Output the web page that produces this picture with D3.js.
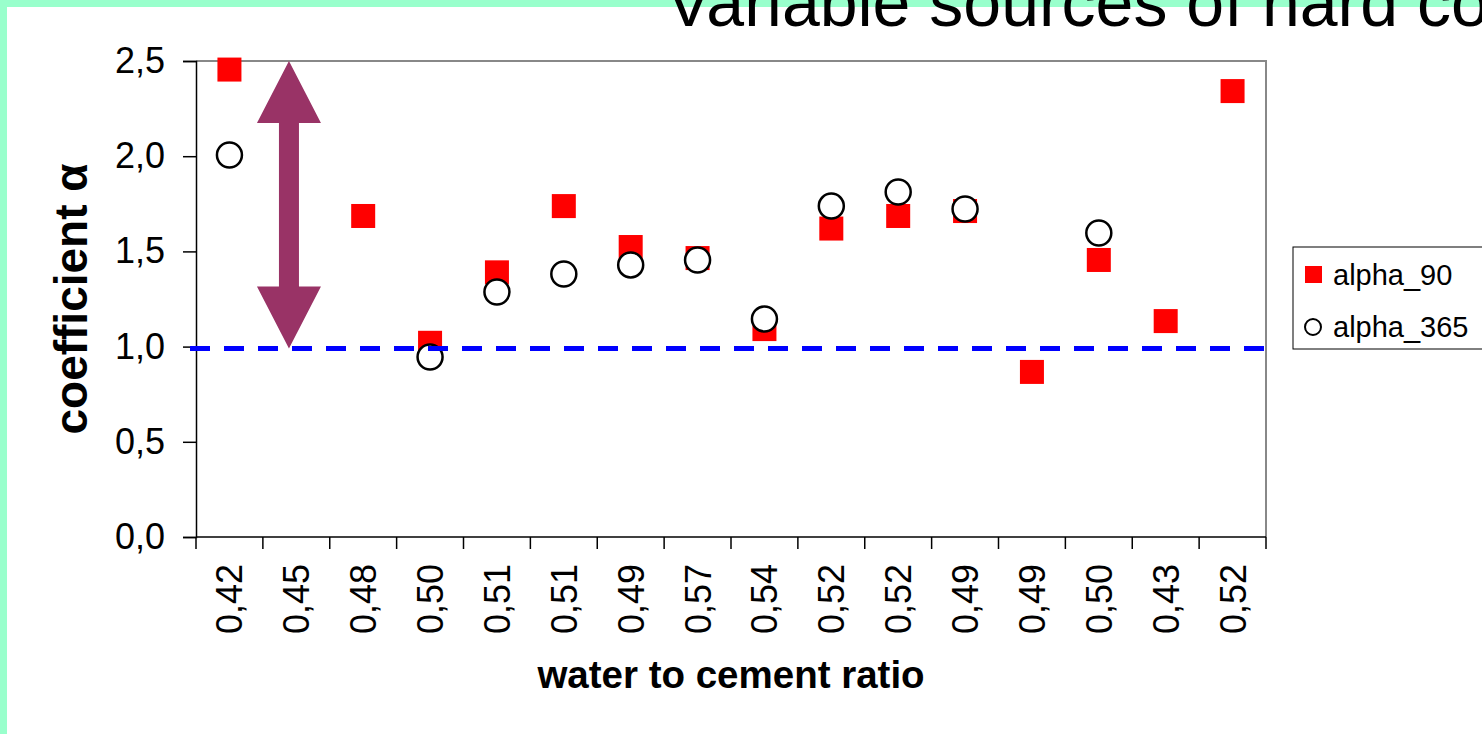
<!DOCTYPE html>
<html>
<head>
<meta charset="utf-8">
<script src="https://cdn.jsdelivr.net/npm/d3@7"></script>
<style>
  body { margin: 0; background: #fff; }
  svg { display: block; }
  text { font-family: "Liberation Sans", Arial, sans-serif; }
</style>
</head>
<body>
<svg width="1482" height="734"></svg>
<script>
// chart data
var categories = ["0,42", "0,45", "0,48", "0,50", "0,51", "0,51", "0,49", "0,57",
                  "0,54", "0,52", "0,52", "0,49", "0,49", "0,50", "0,43", "0,52"];
var alpha90  = [2.455, null, 1.686, 1.02, 1.39, 1.738, 1.523, 1.465,
                1.092, 1.62, 1.686, 1.712, 0.867, 1.455, 1.134, 2.342];
var alpha365 = [2.006, null, null, 0.945, 1.287, 1.381, 1.429, 1.455,
                1.145, 1.738, 1.812, 1.723, null, 1.597, null, null];
var yTicks = [0, 0.5, 1, 1.5, 2, 2.5];
var refValue = 0.99;
var arrowFrom = 1.0, arrowTo = 2.5;

var svg = d3.select("svg");
var W = +svg.attr("width");
var H = +svg.attr("height");
var pLeft = 196, pRight = 1266, pTop = 61, pBottom = 537;

var x = d3.scaleBand().domain(d3.range(categories.length)).range([pLeft, pRight]);
var y = d3.scaleLinear().domain([0, 2.5]).range([pBottom, pTop]);
var fmt = function (d) { return d3.format(".1f")(d).replace(".", ","); };

// slide frame
svg.append("rect").attr("x", 0).attr("y", 0).attr("width", W).attr("height", 7).attr("fill", "#99ffcc");
svg.append("rect").attr("x", 0).attr("y", 0).attr("width", 7).attr("height", H).attr("fill", "#99ffcc");

svg.append("text")
    .attr("x", 666)
    .attr("y", 26)
    .attr("font-family", "DejaVu Sans")
    .attr("font-size", 68)
    .attr("fill", "#000")
    .text("Variable sources of hard co");

// plot frame (top / right grey)
svg.append("path")
    .attr("d", "M" + pLeft + "," + pTop + "H" + pRight + "V" + pBottom)
    .attr("fill", "none")
    .attr("stroke", "#888")
    .attr("stroke-width", 2);

// y axis
var yAxis = svg.append("g")
    .attr("transform", "translate(" + pLeft + ",0)")
    .call(d3.axisLeft(y).tickValues(yTicks).tickFormat(fmt).tickSize(13).tickPadding(18));
yAxis.select(".domain").attr("stroke", "#000").attr("stroke-width", 1.5);
yAxis.selectAll(".tick line").attr("stroke", "#000").attr("stroke-width", 1.5);
yAxis.selectAll(".tick text")
    .attr("font-family", "Liberation Sans")
    .attr("font-size", 36)
    .attr("fill", "#000");

// x axis: labels at centres, ticks at band edges
var xAxis = svg.append("g")
    .attr("transform", "translate(0," + pBottom + ")")
    .call(d3.axisBottom(x).tickFormat(function (i) { return categories[i]; }).tickSize(0));
xAxis.select(".domain").remove();
xAxis.selectAll(".tick text")
    .attr("font-family", "Liberation Sans")
    .attr("font-size", 36)
    .attr("fill", "#000")
    .attr("text-anchor", "end")
    .attr("transform", "rotate(-90)")
    .attr("x", -27)
    .attr("y", 0)
    .attr("dy", "0.36em");

svg.append("line")
    .attr("x1", pLeft).attr("x2", pRight)
    .attr("y1", pBottom).attr("y2", pBottom)
    .attr("stroke", "#000").attr("stroke-width", 1.5);

var edges = d3.range(categories.length + 1).map(function (i) {
    return i < categories.length ? x(i) : x(i - 1) + x.bandwidth();
});
svg.append("g").selectAll("line")
    .data(edges)
    .enter()
    .append("line")
    .attr("x1", function (d) { return d; })
    .attr("x2", function (d) { return d; })
    .attr("y1", pBottom)
    .attr("y2", pBottom + 12)
    .attr("stroke", "#000")
    .attr("stroke-width", 1.5);

// axis titles
svg.append("text")
    .attr("x", 731)
    .attr("y", 688)
    .attr("text-anchor", "middle")
    .attr("font-weight", "bold")
    .attr("font-size", 38.5)
    .attr("fill", "#000")
    .text("water to cement ratio");

svg.append("text")
    .attr("transform", "translate(87,299) rotate(-90)")
    .attr("text-anchor", "middle")
    .attr("font-weight", "bold")
    .attr("font-size", 46)
    .attr("fill", "#000")
    .text("coefficient α");

// series
var sq = 24;
svg.append("g").selectAll("rect")
    .data(alpha90.map(function (v, i) { return { i: i, v: v }; }).filter(function (d) { return d.v != null; }))
    .enter()
    .append("rect")
    .attr("x", function (d) { return x(d.i) + x.bandwidth() / 2 - sq / 2; })
    .attr("y", function (d) { return y(d.v) - sq / 2; })
    .attr("width", sq)
    .attr("height", sq)
    .attr("fill", "#ff0000");

svg.append("g").selectAll("circle")
    .data(alpha365.map(function (v, i) { return { i: i, v: v }; }).filter(function (d) { return d.v != null; }))
    .enter()
    .append("circle")
    .attr("cx", function (d) { return x(d.i) + x.bandwidth() / 2; })
    .attr("cy", function (d) { return y(d.v); })
    .attr("r", 12.5)
    .attr("fill", "#fff")
    .attr("stroke", "#000")
    .attr("stroke-width", 2.5);

// reference line at 1
svg.append("line")
    .attr("x1", 190).attr("x2", pRight)
    .attr("y1", y(refValue)).attr("y2", y(refValue))
    .attr("stroke", "#0000ff")
    .attr("stroke-width", 5)
    .attr("stroke-dasharray", "20,14");

// double arrow
var ax = x(1) + x.bandwidth() * 0.39;
var yt = y(arrowTo), yb = y(arrowFrom) + 2;
var hl = 62, hw = 32, sw = 10;
svg.append("path")
    .attr("d", [
        "M", ax, yt,
        "L", ax + hw, yt + hl,
        "L", ax + sw, yt + hl,
        "L", ax + sw, yb - hl,
        "L", ax + hw, yb - hl,
        "L", ax, yb,
        "L", ax - hw, yb - hl,
        "L", ax - sw, yb - hl,
        "L", ax - sw, yt + hl,
        "L", ax - hw, yt + hl,
        "Z"].join(" "))
    .attr("fill", "#993366");

// legend
var lg = svg.append("g").attr("transform", "translate(1293,247)");
lg.append("rect")
    .attr("width", 220)
    .attr("height", 102)
    .attr("fill", "#fff")
    .attr("stroke", "#000")
    .attr("stroke-width", 1);
lg.append("rect")
    .attr("x", 12).attr("y", 19)
    .attr("width", 17).attr("height", 17)
    .attr("fill", "#ff0000");
lg.append("circle")
    .attr("cx", 20).attr("cy", 80)
    .attr("r", 8)
    .attr("fill", "#fff")
    .attr("stroke", "#000")
    .attr("stroke-width", 2);
lg.append("text")
    .attr("x", 40).attr("y", 38)
    .attr("font-size", 29)
    .attr("fill", "#000")
    .text("alpha_90");
lg.append("text")
    .attr("x", 40).attr("y", 90)
    .attr("font-size", 29)
    .attr("fill", "#000")
    .text("alpha_365");
</script>
</body>
</html>
